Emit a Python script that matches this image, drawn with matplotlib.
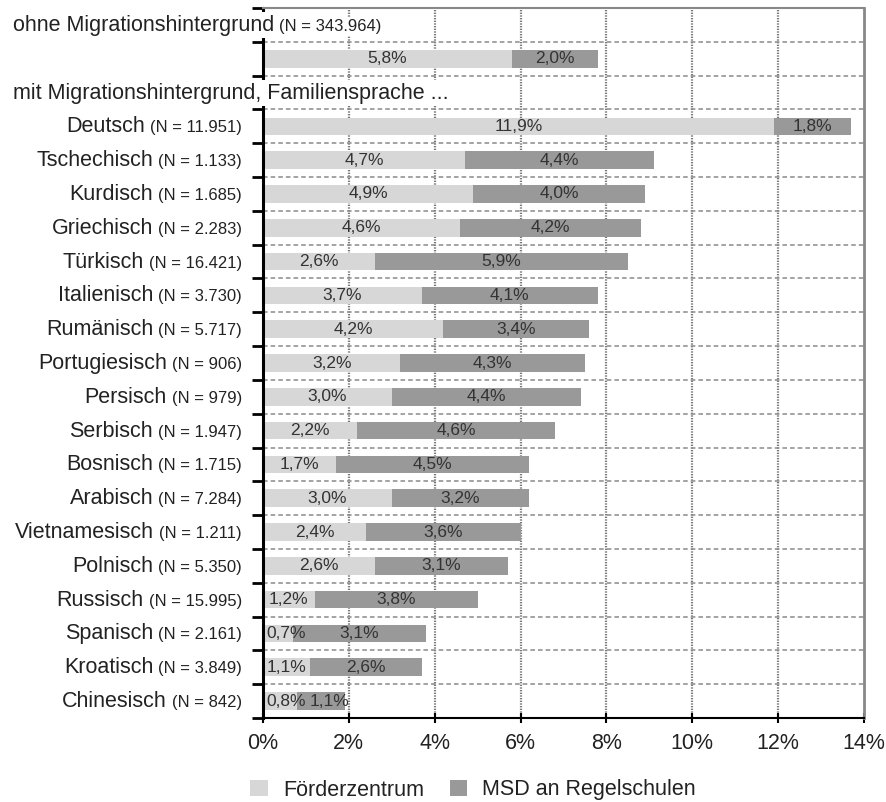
import matplotlib.pyplot as plt
import matplotlib.transforms as mtransforms
from matplotlib.patches import Patch

plt.rcParams['font.family'] = ['Liberation Sans', 'DejaVu Sans']

# Anteile (in %) je Familiensprache
sprachen = ["Deutsch", "Tschechisch", "Kurdisch", "Griechisch", "Türkisch",
            "Italienisch", "Rumänisch", "Portugiesisch", "Persisch", "Serbisch",
            "Bosnisch", "Arabisch", "Vietnamesisch", "Polnisch", "Russisch",
            "Spanisch", "Kroatisch", "Chinesisch"]
n_werte = ["11.951", "1.133", "1.685", "2.283", "16.421", "3.730", "5.717",
           "906", "979", "1.947", "1.715", "7.284", "1.211", "5.350",
           "15.995", "2.161", "3.849", "842"]
foerderzentrum = [11.9, 4.7, 4.9, 4.6, 2.6, 3.7, 4.2, 3.2, 3.0, 2.2,
                  1.7, 3.0, 2.4, 2.6, 1.2, 0.7, 1.1, 0.8]
msd = [1.8, 4.4, 4.0, 4.2, 5.9, 4.1, 3.4, 4.3, 4.4, 4.6,
       4.5, 3.2, 3.6, 3.1, 3.8, 3.1, 2.6, 1.1]

ohne_n = "343.964"
ohne_fz = 5.8
ohne_msd = 2.0

x_ticks = [0, 2, 4, 6, 8, 10, 12, 14]

hell = "#d7d7d7"
dunkel = "#999999"
grid_col = "#8a8a8a"
txt_col = "#222222"

fig = plt.figure(figsize=(8.86, 8.02), dpi=100)
ax = fig.add_axes([263 / 886, 1 - 718 / 802, 601 / 886, 710 / 802])

# Zeilen: 0 = Überschrift ohne, 1 = Balken ohne, 2 = Überschrift mit, 3.. = Sprachen
y_ohne = 1
y_spr = list(range(3, 3 + len(sprachen)))
n_rows = 3 + len(sprachen)

bar_h = 0.52
ax.barh([y_ohne], [ohne_fz], height=bar_h, color=hell, zorder=2)
ax.barh([y_ohne], [ohne_msd], left=[ohne_fz], height=bar_h, color=dunkel, zorder=2)
ax.barh(y_spr, foerderzentrum, height=bar_h, color=hell, zorder=2)
ax.barh(y_spr, msd, left=foerderzentrum, height=bar_h, color=dunkel, zorder=2)


def fmt(v):
    return f"{v:.1f}%".replace(".", ",")


def werte_beschriften(y, a, b):
    xa = max(a / 2, 0.55)
    xb = max(a + b / 2, xa + 1.0)
    ax.text(xa, y, fmt(a), ha="center", va="center", fontsize=12.5, color="#333333", zorder=3)
    ax.text(xb, y, fmt(b), ha="center", va="center", fontsize=12.5, color="#333333", zorder=3)


werte_beschriften(y_ohne, ohne_fz, ohne_msd)
for y, a, b in zip(y_spr, foerderzentrum, msd):
    werte_beschriften(y, a, b)

ax.set_xlim(0, 14)
ax.set_ylim(n_rows - 0.5, -0.5)

# Gitter
for x in x_ticks[1:-1]:
    ax.axvline(x, color="#777777", lw=1.6, ls=(0, (0.6, 0.6)), zorder=1)
for yb in range(n_rows - 1):
    ax.axhline(yb + 0.5, color=grid_col, lw=1.1, ls=(0, (3, 2)), zorder=1)

ax.set_xticks(x_ticks)
ax.set_xticklabels([f"{x}%" for x in x_ticks], fontsize=15.5, color=txt_col)
ax.tick_params(axis="x", direction="inout", length=7, width=1.5, pad=7)
ax.set_yticks([yb - 0.5 for yb in range(n_rows + 1)])
ax.set_yticklabels([])
ax.tick_params(axis="y", direction="out", length=8, width=2)

ax.spines["left"].set_linewidth(2.2)
ax.spines["bottom"].set_linewidth(1.5)
ax.spines["top"].set_color("#888888")
ax.spines["right"].set_color("#888888")
ax.spines["top"].set_linewidth(1.5)
ax.spines["right"].set_linewidth(2)

# Beschriftung der Sprachzeilen
fig.canvas.draw()
renderer = fig.canvas.get_renderer()
for y, name, n in zip(y_spr, sprachen, n_werte):
    tn = ax.annotate(f"(N = {n})", xy=(0, y), xycoords=("axes fraction", "data"),
                     xytext=(-21, -6), textcoords="offset pixels",
                     ha="right", va="baseline", fontsize=12, color=txt_col)
    w = tn.get_window_extent(renderer).width
    ax.annotate(name, xy=(0, y), xycoords=("axes fraction", "data"),
                xytext=(-21 - w - 5, -6), textcoords="offset pixels",
                ha="right", va="baseline", fontsize=15.5, color=txt_col)

# Überschriften links, über der Achse
blend = mtransforms.blended_transform_factory(fig.transFigure, ax.transData)
box = dict(facecolor="white", edgecolor="none", boxstyle="square,pad=0.12")
t1 = ax.annotate("ohne Migrationshintergrund", xy=(13 / 886, 0), xycoords=blend,
                 xytext=(0, -6), textcoords="offset pixels",
                 ha="left", va="baseline", fontsize=15.5, color=txt_col,
                 bbox=box, zorder=10, annotation_clip=False)
w1 = t1.get_window_extent(renderer).width
ax.annotate(f"(N = {ohne_n})", xy=(13 / 886, 0), xycoords=blend,
            xytext=(w1 + 5, -6), textcoords="offset pixels",
            ha="left", va="baseline", fontsize=12, color=txt_col,
            bbox=box, zorder=10, annotation_clip=False)
ax.annotate("mit Migrationshintergrund, Familiensprache ...", xy=(13 / 886, 2),
            xycoords=blend, xytext=(0, -6), textcoords="offset pixels",
            ha="left", va="baseline", fontsize=15.5, color=txt_col,
            bbox=box, zorder=10, annotation_clip=False)

handles = [Patch(facecolor=hell, edgecolor="none", label="Förderzentrum"),
           Patch(facecolor=dunkel, edgecolor="none", label="MSD an Regelschulen")]
fig.legend(handles=handles, loc="center", bbox_to_anchor=(473 / 886, 1 - 790 / 802),
           ncol=2, frameon=False, fontsize=15.5, handlelength=0.8, handleheight=0.8,
           handletextpad=0.7, columnspacing=1.2, labelcolor=txt_col)

fig.savefig("out.png", dpi=100)
